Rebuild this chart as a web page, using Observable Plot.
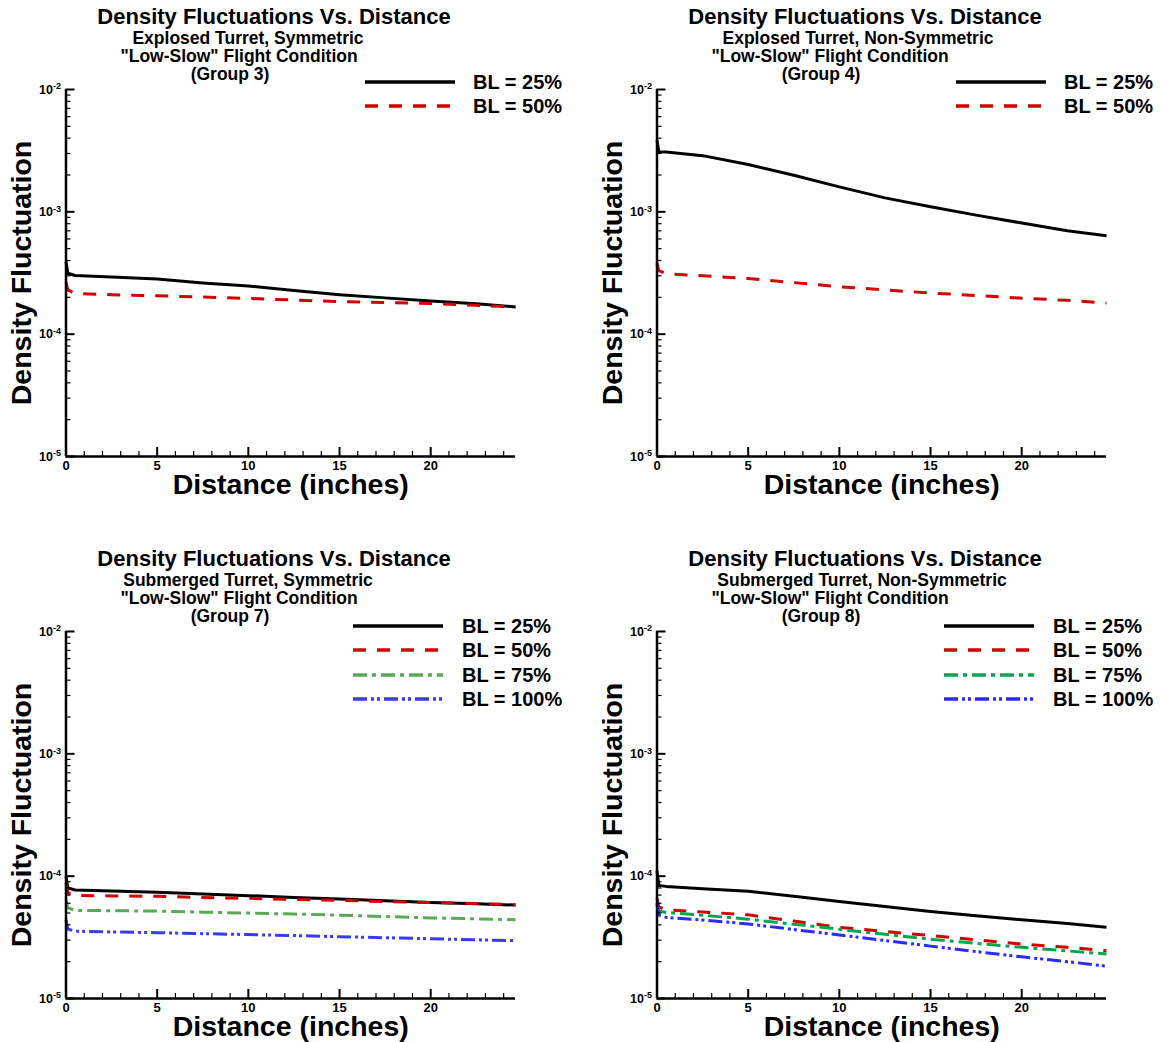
<!DOCTYPE html>
<html><head><meta charset="utf-8">
<script src="https://cdn.jsdelivr.net/npm/d3@7"></script>
<script src="https://cdn.jsdelivr.net/npm/@observablehq/plot@0.6"></script>
<style>
body{margin:0;background:#fff;}
#root{position:relative;width:1161px;height:1042px;overflow:hidden;background:#fff;}
.panel{position:absolute;}
.panel svg{overflow:visible;}
</style></head><body><div id="root"></div>
<script>
// ---------- DATA ----------
const distance = [0, 0.1, 0.5, 2.5, 5, 7.5, 10, 12.5, 15, 17.5, 20, 22.5, 24.65];

const group3_bl25 = [3.9e-4, 3.15e-4, 3.02e-4, 2.93e-4, 2.82e-4, 2.62e-4, 2.48e-4, 2.27e-4, 2.10e-4, 1.98e-4, 1.87e-4, 1.77e-4, 1.67e-4];
const group3_bl50 = [2.65e-4, 2.3e-4, 2.15e-4, 2.1e-4, 2.06e-4, 2.01e-4, 1.96e-4, 1.9e-4, 1.85e-4, 1.81e-4, 1.78e-4, 1.72e-4, 1.67e-4];

const group4_bl25 = [3.85e-3, 3.1e-3, 3.08e-3, 2.88e-3, 2.44e-3, 1.99e-3, 1.6e-3, 1.3e-3, 1.1e-3, 9.4e-4, 8.1e-4, 7.0e-4, 6.37e-4];
const group4_bl50 = [3.8e-4, 3.3e-4, 3.12e-4, 3.0e-4, 2.85e-4, 2.64e-4, 2.44e-4, 2.3e-4, 2.17e-4, 2.07e-4, 1.97e-4, 1.89e-4, 1.8e-4];

const group7_bl25 = [1.0e-4, 8.0e-5, 7.7e-5, 7.55e-5, 7.38e-5, 7.15e-5, 6.93e-5, 6.7e-5, 6.5e-5, 6.3e-5, 6.1e-5, 5.95e-5, 5.8e-5];
const group7_bl50 = [8.8e-5, 7.3e-5, 6.95e-5, 6.9e-5, 6.84e-5, 6.7e-5, 6.59e-5, 6.45e-5, 6.34e-5, 6.2e-5, 6.1e-5, 5.97e-5, 5.84e-5];
const group7_bl75 = [6.4e-5, 5.5e-5, 5.25e-5, 5.22e-5, 5.18e-5, 5.08e-5, 4.99e-5, 4.9e-5, 4.8e-5, 4.68e-5, 4.56e-5, 4.48e-5, 4.4e-5];
const group7_bl100 = [4.4e-5, 3.7e-5, 3.55e-5, 3.5e-5, 3.45e-5, 3.39e-5, 3.33e-5, 3.27e-5, 3.2e-5, 3.14e-5, 3.08e-5, 3.02e-5, 2.97e-5];

const group8_bl25 = [1.1e-4, 8.4e-5, 8.25e-5, 7.9e-5, 7.52e-5, 6.85e-5, 6.22e-5, 5.65e-5, 5.15e-5, 4.75e-5, 4.4e-5, 4.1e-5, 3.82e-5];
const group8_bl50 = [6.6e-5, 5.6e-5, 5.3e-5, 5.1e-5, 4.83e-5, 4.3e-5, 3.82e-5, 3.53e-5, 3.27e-5, 3.02e-5, 2.79e-5, 2.62e-5, 2.46e-5];
const group8_bl75 = [5.85e-5, 5.2e-5, 5.05e-5, 4.8e-5, 4.45e-5, 4.05e-5, 3.68e-5, 3.35e-5, 3.05e-5, 2.82e-5, 2.62e-5, 2.45e-5, 2.31e-5];
const group8_bl100 = [6.0e-5, 4.8e-5, 4.6e-5, 4.38e-5, 4.07e-5, 3.66e-5, 3.31e-5, 2.98e-5, 2.68e-5, 2.42e-5, 2.19e-5, 2.0e-5, 1.84e-5];

const seriesLabels = ["BL = 25%", "BL = 50%", "BL = 75%", "BL = 100%"];
const chartTitle = "Density Fluctuations Vs. Distance";
const subtitleLine1 = ["Explosed Turret, Symmetric", "Explosed Turret, Non-Symmetric", "Submerged Turret, Symmetric", "Submerged Turret, Non-Symmetric"];
const subtitleLine2 = "\"Low-Slow\" Flight Condition";
const groupLabels = ["(Group 3)", "(Group 4)", "(Group 7)", "(Group 8)"];
const xAxisLabel = "Distance (inches)";
const yAxisLabel = "Density Fluctuation";
const xMajorTicks = [0, 5, 10, 15, 20];
const xMinorTicks = [1,2,3,4,6,7,8,9,11,12,13,14,16,17,18,19,21,22,23,24];
const yMajorTicks = [1e-2, 1e-3, 1e-4, 1e-5];
const yMajorExponents = ["-2", "-3", "-4", "-5"];
const yMinorMultipliers = [2,3,4,5,6,7,8,9];
const yDecades = [1e-5, 1e-4, 1e-3];

// ---------- STYLES ----------
const FONT = "'Liberation Sans', Arial, Helvetica, sans-serif";
const styleBL25 = {stroke: "#000000", dash: null};
const styleBL50 = {stroke: "#d40000", dash: "13,11"};
const styleBL75a = {stroke: "#5aaa55", dash: "14,5,4,5"};
const styleBL75b = {stroke: "#00a550", dash: "14,5,4,5"};
const styleBL100a = {stroke: "#3a3af5", dash: "14,4,3,3,3,4"};
const styleBL100b = {stroke: "#2b2bff", dash: "14,4,3,3,3,4"};

const panels = [
  {left: 0, top: 0, width: 580, sub1Dx: 182, series: [[group3_bl25, styleBL25], [group3_bl50, styleBL50]], legend: {x1: 365, x2: 455, tx: 473, rows: [82, 106]}},
  {left: 591, top: 0, width: 570, sub1Dx: 201, series: [[group4_bl25, styleBL25], [group4_bl50, styleBL50]], legend: {x1: 365, x2: 455, tx: 473, rows: [82, 106]}},
  {left: 0, top: 542, width: 580, sub1Dx: 182, series: [[group7_bl25, styleBL25], [group7_bl50, styleBL50], [group7_bl75, styleBL75a], [group7_bl100, styleBL100a]], legend: {x1: 353, x2: 443, tx: 462, rows: [84, 108, 133, 157]}},
  {left: 591, top: 542, width: 570, sub1Dx: 205, series: [[group8_bl25, styleBL25], [group8_bl50, styleBL50], [group8_bl75, styleBL75b], [group8_bl100, styleBL100b]], legend: {x1: 353, x2: 443, tx: 462, rows: [84, 108, 133, 157]}}
];

const root = document.getElementById("root");
const yMinorTicks = yDecades.flatMap(d => yMinorMultipliers.map(m => m * d));

panels.forEach((p, pi) => {
  const marginLeft = 65.5, marginTop = 89, H = 520, marginBottom = 64;
  const marginRight = p.width - marginLeft - 449.5;
  const marks = [];
  p.series.forEach(([vals, st]) => {
    const data = distance.map((x, j) => ({x, y: vals[j]}));
    marks.push(Plot.line(data, {x: "x", y: "y", stroke: st.stroke, strokeWidth: 3, strokeDasharray: st.dash, strokeLinejoin: "round", strokeLinecap: "butt"}));
  });
  marks.push(Plot.axisX(xMinorTicks, {label: null, tickSize: -5, tickFormat: () => "", strokeWidth: 1.2}));
  marks.push(Plot.axisX(xMajorTicks, {label: null, tickSize: -9, tickPadding: 13, strokeWidth: 2, fontSize: 13, fontWeight: "bold", tickFormat: d => String(d)}));
  marks.push(Plot.axisY(yMinorTicks, {label: null, tickSize: -5, tickFormat: () => "", strokeWidth: 1.2}));
  marks.push(Plot.axisY(yMajorTicks, {label: null, tickSize: -9, tickPadding: 14, strokeWidth: 2, fontSize: 12.5, fontWeight: "bold", tickFormat: d => "10^" + yMajorExponents[yMajorTicks.indexOf(d)]}));
  marks.push(Plot.ruleX([0], {strokeWidth: 2.5}));
  marks.push(Plot.ruleY([1e-5], {strokeWidth: 2.5}));
  marks.push(Plot.text([xAxisLabel], {frameAnchor: "bottom", dy: 28, lineAnchor: "middle", fontSize: 28.5, fontWeight: "bold", text: d => d}));
  marks.push(Plot.text([yAxisLabel], {frameAnchor: "left", dx: -44, rotate: -90, lineAnchor: "middle", textAnchor: "middle", fontSize: 28.5, fontWeight: "bold", text: d => d}));
  marks.push(Plot.text([chartTitle], {frameAnchor: "top-left", dx: 208, dy: -73, textAnchor: "middle", lineAnchor: "middle", fontSize: 22, fontWeight: "bold", text: d => d}));
  marks.push(Plot.text([subtitleLine1[pi]], {frameAnchor: "top-left", dx: p.sub1Dx, dy: -51, textAnchor: "middle", lineAnchor: "middle", fontSize: 17.5, fontWeight: "bold", text: d => d}));
  marks.push(Plot.text([subtitleLine2], {frameAnchor: "top-left", dx: 173, dy: -33, textAnchor: "middle", lineAnchor: "middle", fontSize: 17.5, fontWeight: "bold", text: d => d}));
  marks.push(Plot.text([groupLabels[pi]], {frameAnchor: "top-left", dx: 164, dy: -15, textAnchor: "middle", lineAnchor: "middle", fontSize: 17.5, fontWeight: "bold", text: d => d}));

  const svg = Plot.plot({
    width: p.width, height: H,
    marginLeft, marginRight, marginTop, marginBottom,
    x: {domain: [0, 24.65], axis: null},
    y: {type: "log", domain: [1e-5, 1e-2], axis: null},
    style: {fontFamily: FONT, background: "transparent", color: "#000", overflow: "visible"},
    marks
  });
  d3.select(svg).selectAll("text").each(function() {
    const t = this.textContent;
    if (/^10\^/.test(t)) {
      const exp = t.slice(3);
      const sel = d3.select(this);
      sel.text("10");
      sel.append("tspan").attr("dy", "-0.45em").attr("font-size", "9px").text(exp);
    }
  });
  const lg = d3.select(svg).append("g").attr("font-family", FONT).attr("font-weight", "bold").attr("text-anchor", "start");
  p.series.forEach(([vals, st], i) => {
    const yy = p.legend.rows[i];
    lg.append("line").attr("x1", p.legend.x1).attr("x2", p.legend.x2).attr("y1", yy).attr("y2", yy)
      .attr("stroke", st.stroke).attr("stroke-width", 3.5).attr("stroke-dasharray", st.dash);
    lg.append("text").attr("x", p.legend.tx).attr("y", yy).attr("dy", "0.35em").attr("font-size", 20)
      .attr("text-anchor", "start").attr("fill", "#000").text(seriesLabels[i]);
  });
  const div = document.createElement("div");
  div.className = "panel";
  div.style.left = p.left + "px";
  div.style.top = p.top + "px";
  div.appendChild(svg);
  root.appendChild(div);
});
</script></body></html>
